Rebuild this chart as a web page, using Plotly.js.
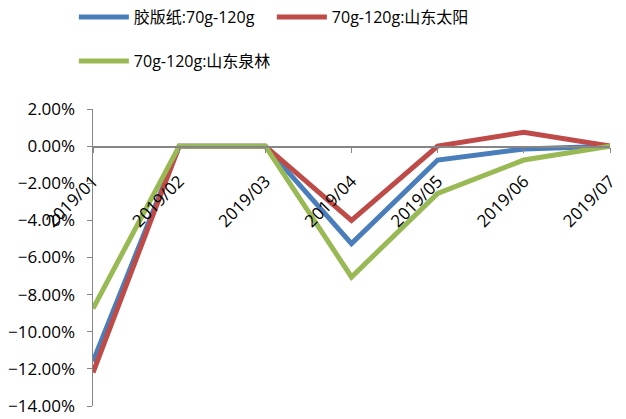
<!DOCTYPE html>
<html>
<head>
<meta charset="utf-8">
<script src="https://cdn.plot.ly/plotly-3.0.1.min.js"></script>
<style>
  html, body { margin: 0; padding: 0; background: #ffffff; }
  #chart { width: 626px; height: 419px; }
</style>
</head>
<body>
<div id="chart"></div>
<script>
// Monthly price change, 70g-120g offset paper
const months = ['2019/01', '2019/02', '2019/03', '2019/04', '2019/05', '2019/06', '2019/07'];
const offsetPaper = [-0.1160, 0, 0, -0.0525, -0.0075, -0.0015, 0];
const sunPaper    = [-0.1220, 0, 0, -0.0400, 0.0000, 0.0075, 0];
const chenmingQuanlin = [-0.0875, 0, 0, -0.0705, -0.0255, -0.0075, 0];

const seriesNames = ['胶版纸:70g-120g', '70g-120g:山东太阳', '70g-120g:山东泉林'];
const seriesColors = ['#4a7ebb', '#be4b48', '#98b954'];

const yMin = -0.14, yMax = 0.02;
const font = '"Open Sans", "Noto Sans CJK SC", sans-serif';

function line(y, i, legend) {
  return {
    x: months, y: y, name: seriesNames[i], type: 'scatter', mode: 'lines',
    line: { color: seriesColors[i], width: 5 },
    legend: legend
  };
}

const data = [
  line(offsetPaper, 0, 'legend'),
  line(sunPaper, 1, 'legend'),
  line(chenmingQuanlin, 2, 'legend2')
];

const legendFont = { family: font, size: 16, color: '#000000' };
const tickFont = { family: font, size: 17, color: '#000000' };

const layout = {
  width: 626, height: 419,
  margin: { l: 93, r: 16, t: 109, b: 13 },
  paper_bgcolor: '#ffffff', plot_bgcolor: '#ffffff',
  showlegend: true,
  legend: {
    orientation: 'h', x: 0.118, y: 1.0, xanchor: 'left', yanchor: 'top',
    xref: 'container', yref: 'container',
    font: legendFont, entrywidth: 133, entrywidthmode: 'pixels',
    bgcolor: 'rgba(0,0,0,0)', itemwidth: 50
  },
  legend2: {
    orientation: 'h', x: 0.118, y: 0.895, xanchor: 'left', yanchor: 'top',
    xref: 'container', yref: 'container',
    font: legendFont, bgcolor: 'rgba(0,0,0,0)', itemwidth: 50
  },
  xaxis: {
    type: 'category', range: [0, 6],
    anchor: 'free', position: (0 - yMin) / (yMax - yMin),
    showline: true, linecolor: '#868686', linewidth: 1.5,
    ticks: 'outside', ticklen: 5, tickcolor: '#868686', tickwidth: 1,
    tickangle: -45, showgrid: false, zeroline: false,
    ticklabelstandoff: 12,
    tickfont: tickFont
  },
  yaxis: {
    range: [yMin, yMax], dtick: 0.02, tickformat: '.2%',
    showline: true, linecolor: '#868686', linewidth: 1.5,
    ticks: 'outside', ticklen: 5, tickcolor: '#868686', tickwidth: 1,
    showgrid: false, zeroline: false,
    ticklabelstandoff: 8,
    tickfont: tickFont
  }
};

Plotly.newPlot('chart', data, layout, { displayModeBar: false, staticPlot: true });
</script>
</body>
</html>
